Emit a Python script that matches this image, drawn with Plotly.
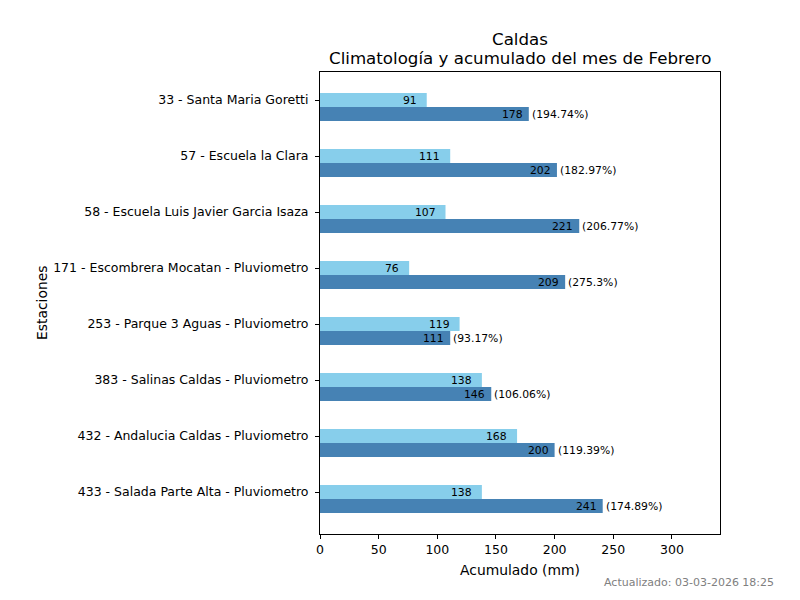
import plotly.graph_objects as go

estaciones = [
    "33 - Santa Maria Goretti",
    "57 - Escuela la Clara",
    "58 - Escuela Luis Javier Garcia Isaza",
    "171 - Escombrera Mocatan - Pluviometro",
    "253 - Parque 3 Aguas - Pluviometro",
    "383 - Salinas Caldas - Pluviometro",
    "432 - Andalucia Caldas - Pluviometro",
    "433 - Salada Parte Alta - Pluviometro",
]
climatologia = [91, 111, 107, 76, 119, 138, 168, 138]
acumulado = [178, 202, 221, 209, 111, 146, 200, 241]
porcentajes = ["194.74%", "182.97%", "206.77%", "275.3%", "93.17%", "106.06%", "119.39%", "174.89%"]
x_ticks = [0, 50, 100, 150, 200, 250, 300]

FONT = "DejaVu Sans"
pos = list(range(len(estaciones)))
pos2 = [p + 0.25 for p in pos]

# page body has an 8px margin; figure is offset accordingly
OFF = 8
W, H = 800 - OFF, 600 - OFF
L, R, T, B = 320 - OFF, 80, 72 - OFF, 66
pw, ph = W - L - R, H - T - B


def px_x(sx):
    return (sx - OFF - L) / pw


def px_y(sy):
    return (H - B - (sy - OFF)) / ph


fig = go.Figure()
fig.add_trace(go.Bar(x=climatologia, y=pos, orientation="h", width=0.25,
                     marker=dict(color="#87CEEB", line=dict(width=0)), name="Climatología"))
fig.add_trace(go.Bar(x=acumulado, y=pos2, orientation="h", width=0.25,
                     marker=dict(color="#4682B4", line=dict(width=0)), name="Acumulado"))

SMALL = 10.8
annotations = []
for p, v in zip(pos, climatologia):
    annotations.append(dict(x=v, y=p, xref="x", yref="y", text=str(v), showarrow=False,
                            xanchor="right", xshift=-8, font=dict(family=FONT, size=SMALL, color="black")))
for p, v, pc in zip(pos2, acumulado, porcentajes):
    annotations.append(dict(x=v, y=p, xref="x", yref="y", text=str(v), showarrow=False,
                            xanchor="right", xshift=-4, font=dict(family=FONT, size=SMALL, color="black")))
    annotations.append(dict(x=v, y=p, xref="x", yref="y", text=f"({pc})", showarrow=False,
                            xanchor="left", xshift=1, font=dict(family=FONT, size=SMALL, color="black")))
annotations.append(dict(x=px_x(776), y=px_y(582), xref="paper", yref="paper",
                        text="Actualizado: 03-03-2026 18:25",
                        showarrow=False, xanchor="right", yanchor="middle",
                        font=dict(family=FONT, size=11, color="gray")))
annotations.append(dict(x=0.5, y=px_y(40), xref="paper", yref="paper",
                        text="Caldas", showarrow=False, xanchor="center", yanchor="middle",
                        font=dict(family=FONT, size=16.67, color="black")))
annotations.append(dict(x=0.5, y=px_y(59), xref="paper", yref="paper",
                        text="Climatología y acumulado del mes de Febrero", showarrow=False,
                        xanchor="center", yanchor="middle",
                        font=dict(family=FONT, size=16.67, color="black")))
annotations.append(dict(x=0.5, y=px_y(570), xref="paper", yref="paper",
                        text="Acumulado (mm)", showarrow=False, xanchor="center", yanchor="middle",
                        font=dict(family=FONT, size=13.89, color="black")))
annotations.append(dict(x=px_x(42), y=px_y(303), xref="paper", yref="paper",
                        text="Estaciones", showarrow=False, xanchor="center", yanchor="middle",
                        textangle=-90, font=dict(family=FONT, size=13.89, color="black")))

fig.update_layout(
    width=W, height=H,
    margin=dict(l=L, r=R, t=T, b=B, autoexpand=False),
    paper_bgcolor="white", plot_bgcolor="white",
    barmode="overlay",
    showlegend=False,
    font=dict(family=FONT, size=12.5, color="black"),
    xaxis=dict(range=[0, 341], tickvals=x_ticks, ticks="outside", ticklen=4, tickcolor="black",
               showgrid=False, zeroline=False, showline=True, linecolor="black", linewidth=1, mirror=True,
               automargin=False, tickfont=dict(family=FONT, size=12.5)),
    yaxis=dict(range=[7.75, -0.5], tickvals=pos, ticktext=estaciones, ticks="outside", ticklen=4,
               tickcolor="black", showgrid=False, zeroline=False, showline=True, linecolor="black",
               linewidth=1, mirror=True, automargin=False, ticklabelstandoff=4,
               tickfont=dict(family=FONT, size=12.5)),
    annotations=annotations,
)

fig.write_html("out.html")
